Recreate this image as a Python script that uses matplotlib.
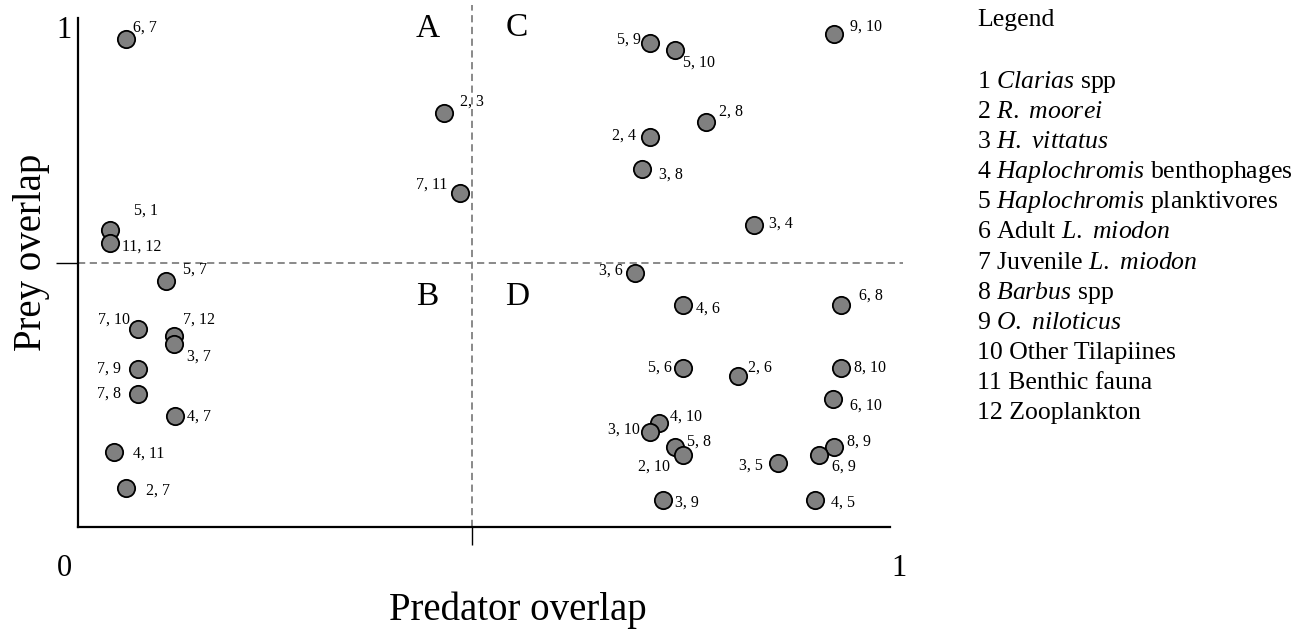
import numpy as np
import matplotlib
matplotlib.use("Agg")
import matplotlib.pyplot as plt

plt.rcParams['font.family'] = ['Liberation Serif', 'DejaVu Serif']
plt.rcParams['mathtext.fontset'] = 'custom'
plt.rcParams['mathtext.rm'] = 'Liberation Serif'
plt.rcParams['mathtext.it'] = 'Liberation Serif:italic'

# species pair labels and their predator / prey overlap
pairs = ['6, 7', '2, 3', '7, 11', '5, 1', '11, 12', '5, 7', '7, 10', '7, 12', '3, 7',
         '7, 9', '7, 8', '4, 7', '4, 11', '2, 7',
         '5, 9', '5, 10', '9, 10', '2, 8', '2, 4', '3, 8', '3, 4', '3, 6',
         '4, 6', '6, 8', '5, 6', '2, 6', '8, 10', '6, 10', '4, 10', '3, 10',
         '5, 8', '2, 10', '3, 5', '8, 9', '6, 9', '3, 9', '4, 5']
predator = [0.059, 0.451, 0.470, 0.039, 0.039, 0.108, 0.074, 0.118, 0.118,
            0.074, 0.074, 0.119, 0.044, 0.059,
            0.705, 0.735, 0.931, 0.774, 0.705, 0.695, 0.833, 0.686,
            0.745, 0.940, 0.745, 0.813, 0.940, 0.930, 0.716, 0.705,
            0.735, 0.745, 0.862, 0.931, 0.912, 0.721, 0.908]
prey = [0.958, 0.813, 0.657, 0.583, 0.557, 0.484, 0.389, 0.375, 0.360,
        0.310, 0.261, 0.219, 0.147, 0.076,
        0.951, 0.937, 0.968, 0.796, 0.766, 0.703, 0.593, 0.500,
        0.437, 0.437, 0.313, 0.297, 0.313, 0.251, 0.204, 0.187,
        0.158, 0.141, 0.125, 0.158, 0.141, 0.054, 0.054]

# label offsets in pixels (dx right, dy up) and alignment
label_dx = [7, 16, -12, 24, 12, 17, -8, 9, 13,
            -17, -17, 12, 19, 20,
            -9, 8, 16, 13, -14, 17, 15, -12,
            13, 18, -11, 10, 13, 17, 11, -11,
            12, -13, -15, 13, 13, 12, 16]
label_dy = [12, 12, 8, 20, -3, 11, 9, 16, -13,
            1, 1, -1, -1, -2,
            3, -13, 8, 10, 1, -5, 2, 2,
            -4, 9, 0, 8, 0, -6, 7, 2,
            5, -11, -2, 5, -11, -3, -3]

mid_x = 0.485
mid_y = 0.519

legend_title = 'Legend'
legend_items = [r'1 $\mathit{Clarias}$ spp',
                r'2 $\mathit{R.}$ $\mathit{moorei}$',
                r'3 $\mathit{H.}$ $\mathit{vittatus}$',
                r'4 $\mathit{Haplochromis}$ benthophages',
                r'5 $\mathit{Haplochromis}$ planktivores',
                r'6 Adult $\mathit{L.}$ $\mathit{miodon}$',
                r'$\mathit{7}$ Juvenile $\mathit{L.}$ $\mathit{miodon}$',
                r'8 $\mathit{Barbus}$ spp',
                r'9 $\mathit{O.}$ $\mathit{niloticus}$',
                '10 Other Tilapiines',
                '11 Benthic fauna',
                '12 Zooplankton']

W, H = 1301, 633
fig = plt.figure(figsize=(W / 100, H / 100), dpi=100)

def fx(px):
    return px / W

def fy(py):
    return 1 - py / H

ax = fig.add_axes([fx(78), fy(527), 812 / W, 509 / H])
ax.set_xlim(0, 1)
ax.set_ylim(0, 1)
for s in ['top', 'right']:
    ax.spines[s].set_visible(False)
for s in ['left', 'bottom']:
    ax.spines[s].set_linewidth(1.6)

ax.set_xticks([mid_x])
ax.set_yticks([mid_y])
ax.set_xticklabels([])
ax.set_yticklabels([])
ax.tick_params(axis='x', length=13, width=1.0, direction='out')
ax.tick_params(axis='y', length=16, width=1.0, direction='out')

# quadrant dividers
ax.plot([mid_x, mid_x], [0, 1.026], ls=(0, (4, 2.5)), color='#808080', lw=1.3,
        clip_on=False, zorder=1)
ax.plot([0, 1.016], [mid_y, mid_y], ls=(0, (4, 2.5)), color='#808080', lw=1.3,
        clip_on=False, zorder=1)

ax.scatter(predator, prey, s=155, c='#808080', edgecolors='black', linewidths=1.3,
           zorder=3, clip_on=False)

for name, x, y, dx, dy in zip(pairs, predator, prey, label_dx, label_dy):
    ax.annotate(name, (x, y), xytext=(dx * 0.72, dy * 0.72), textcoords='offset points',
                ha='left' if dx > 0 else 'right', va='center', fontsize=11.5)

# quadrant letters
for letter, px, py in [('A', 428, 29), ('C', 517, 28), ('B', 427, 297), ('D', 517, 297)]:
    fig.text(fx(px), fy(py), letter, fontsize=24, ha='center', va='center')

# axis end labels
fig.text(fx(64), fy(30), '1', fontsize=22, ha='center', va='center')
fig.text(fx(64), fy(569), '0', fontsize=22, ha='center', va='center')
fig.text(fx(899), fy(569), '1', fontsize=22, ha='center', va='center')

fig.text(fx(518), fy(620), 'Predator overlap', fontsize=28, ha='center', va='baseline')
fig.text(fx(32), fy(252), 'Prey overlap', fontsize=28, ha='center', va='center',
         rotation=90)

# legend block
fig.text(fx(977), fy(20), legend_title, fontsize=18.5, ha='left', va='center')
for i, item in enumerate(legend_items):
    fig.text(fx(977), fy(82 + i * 30.1), item, fontsize=18.5, ha='left', va='center')

fig.savefig('out.png', dpi=100)
